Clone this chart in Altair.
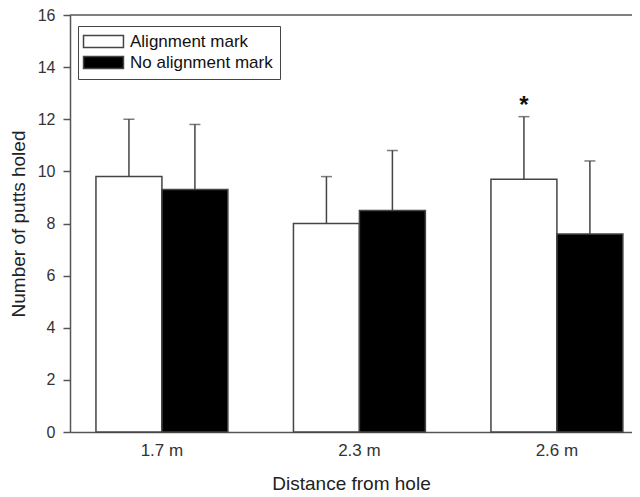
import altair as alt
import pandas as pd

distances = ["1.7 m", "2.3 m", "2.6 m"]
groups = ["Alignment mark", "No alignment mark"]
mean_align = [9.8, 8.0, 9.7]
mean_none = [9.3, 8.5, 7.6]
sd_align = [2.2, 1.8, 2.4]
sd_none = [2.5, 2.3, 2.8]
marker_align = ["", "", "*"]

rows = []
for i, d in enumerate(distances):
    rows.append(dict(distance=d, group=groups[0], mean=mean_align[i],
                     upper=round(mean_align[i] + sd_align[i], 2), star=marker_align[i]))
    rows.append(dict(distance=d, group=groups[1], mean=mean_none[i],
                     upper=round(mean_none[i] + sd_none[i], 2), star=""))
df = pd.DataFrame(rows)

W, H = 562, 417
FONT = "Liberation Sans"
AX = "#555555"
EDGE = "#444444"

xenc = alt.X("distance:N", sort=distances, title="Distance from hole",
             scale=alt.Scale(domain=distances, paddingInner=0.332, paddingOuter=0.0888, align=0.74),
             axis=alt.Axis(labelAngle=0, ticks=False, labelPadding=10, titlePadding=16,
                           labelFontSize=17, titleFontSize=19))
xoff = alt.XOffset("group:N", sort=groups,
                   scale=alt.Scale(domain=groups, paddingInner=0, paddingOuter=0))
yscale = alt.Scale(domain=[0, 16], nice=False, zero=True)

base = alt.Chart(df)

bars = base.mark_bar(stroke=EDGE, strokeWidth=1.5).encode(
    x=xenc,
    xOffset=xoff,
    y=alt.Y("mean:Q", scale=yscale, title="Number of putts holed",
            axis=alt.Axis(values=list(range(0, 17, 2)), tickSize=7, labelPadding=8,
                          titlePadding=9, labelFontSize=16, titleFontSize=19)),
    fill=alt.Fill("group:N", sort=groups,
                  scale=alt.Scale(domain=groups, range=["white", "black"]),
                  legend=alt.Legend(title=None, orient="none", legendX=8, legendY=11,
                                    symbolType="M-3.33,-1L3.33,-1L3.33,1L-3.33,1Z",
                                    symbolSize=144, symbolOffset=10,
                                    symbolStrokeColor=EDGE,
                                    symbolStrokeWidth=1.5, labelFont=FONT,
                                    labelFontSize=17, labelColor="#111111",
                                    strokeColor=EDGE, fillColor="white", padding=7,
                                    rowPadding=2, labelOffset=18)),
)

err = base.mark_rule(color=EDGE, strokeWidth=1.5).encode(
    x=alt.X("distance:N", sort=distances), xOffset=xoff,
    y=alt.Y("mean:Q", scale=yscale), y2="upper:Q",
)

caps = base.mark_tick(color=EDGE, thickness=1.5, size=11).encode(
    x=alt.X("distance:N", sort=distances), xOffset=xoff,
    y=alt.Y("upper:Q", scale=yscale),
)

stars = base.transform_filter(alt.datum.star != "").mark_text(
    fontSize=24, fontWeight="bold", font=FONT, baseline="alphabetic", dy=-4, color="#111111"
).encode(
    x=alt.X("distance:N", sort=distances), xOffset=xoff,
    y=alt.Y("upper:Q", scale=yscale), text="star:N",
)

top = alt.Chart(alt.Data(values=[{"k": 1}])).mark_rule(color=AX, strokeWidth=1.5).encode(
    x=alt.value(0), x2=alt.value(W), y=alt.value(0)
)

chart = alt.layer(bars, err, caps, stars, top).properties(
    width=W, height=H,
    autosize=alt.AutoSizeParams(type="none"),
    padding={"left": 62, "top": 7, "right": 0, "bottom": 64},
).configure_view(stroke="transparent").configure_axis(
    grid=False, domainColor=AX, domainWidth=1.5, tickColor=AX, tickWidth=1.5,
    labelFont=FONT, titleFont=FONT, titleFontWeight="normal",
    labelColor="#333333", titleColor="#222222",
)

chart.save("out.html", embed_options={"renderer": "svg", "actions": False})
